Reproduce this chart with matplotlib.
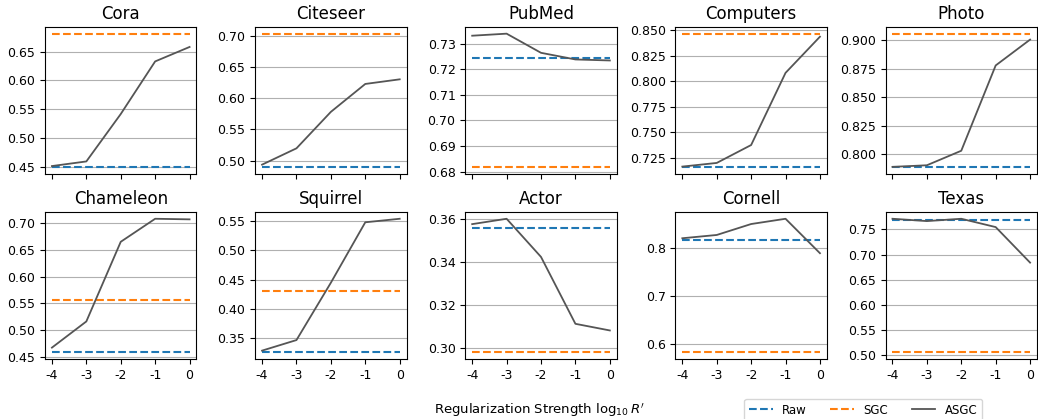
import matplotlib
matplotlib.use("Agg")
import matplotlib.pyplot as plt
from matplotlib.ticker import MultipleLocator

plt.rcParams["axes.unicode_minus"] = False

log_r = [-4, -3, -2, -1, 0]

datasets = ["Cora", "Citeseer", "PubMed", "Computers", "Photo",
            "Chameleon", "Squirrel", "Actor", "Cornell", "Texas"]

raw_acc = [0.450, 0.4895, 0.7243, 0.7156, 0.7887,
           0.4586, 0.3263, 0.3561, 0.8171, 0.769]

sgc_acc = [0.681, 0.703, 0.6817, 0.8468, 0.9055,
           0.5563, 0.4308, 0.298, 0.5835, 0.506]

asgc_acc = [
    [0.452, 0.460, 0.542, 0.633, 0.658],
    [0.4936, 0.5197, 0.578, 0.6226, 0.630],
    [0.7332, 0.7340, 0.7265, 0.7239, 0.7235],
    [0.7162, 0.7198, 0.7374, 0.8083, 0.8438],
    [0.789, 0.7904, 0.8031, 0.8777, 0.9003],
    [0.4674, 0.5164, 0.6655, 0.7086, 0.7075],
    [0.3292, 0.3472, 0.445, 0.548, 0.554],
    [0.3578, 0.3603, 0.3425, 0.3113, 0.3082],
    [0.820, 0.8268, 0.8495, 0.8604, 0.789],
    [0.771, 0.7664, 0.771, 0.7545, 0.684],
]

# y tick step per panel
y_steps = [0.05, 0.05, 0.01, 0.025, 0.025,
           0.05, 0.05, 0.02, 0.1, 0.05]

fig, axes = plt.subplots(2, 5, figsize=(10.38, 4.19), dpi=100)
fig.subplots_adjust(left=0.0434, right=0.999, top=0.9356, bottom=0.1432,
                    wspace=0.388, hspace=0.26)

for i, ax in enumerate(axes.flat):
    ax.plot(log_r, [raw_acc[i]] * len(log_r), "--", color="#1f77b4",
            linewidth=1.5, label="Raw")
    ax.plot(log_r, [sgc_acc[i]] * len(log_r), "--", color="#ff7f0e",
            linewidth=1.5, label="SGC")
    ax.plot(log_r, asgc_acc[i], "-", color="#555555",
            linewidth=1.3, label="ASGC")
    ax.set_title(datasets[i], fontsize=12)
    ax.yaxis.set_major_locator(MultipleLocator(y_steps[i]))
    ax.yaxis.grid(True, color="#b0b0b0", linewidth=0.8)
    ax.set_axisbelow(True)
    ax.set_xticks(log_r)
    ax.tick_params(labelsize=9)
    if i < 5:
        ax.tick_params(labelbottom=False)

fig.text(0.52, 0.022, "Regularization Strength $\\log_{10}R'$",
         ha="center", va="center", fontsize=9.5)

handles, labels = axes[0, 0].get_legend_handles_labels()
fig.legend(handles, labels, ncol=3, loc="upper left",
           bbox_to_anchor=(0.717, 0.048), borderaxespad=0,
           fontsize=8.5, handlelength=2.0, columnspacing=2.0)

plt.savefig("out.png", dpi=100)
plt.close()
